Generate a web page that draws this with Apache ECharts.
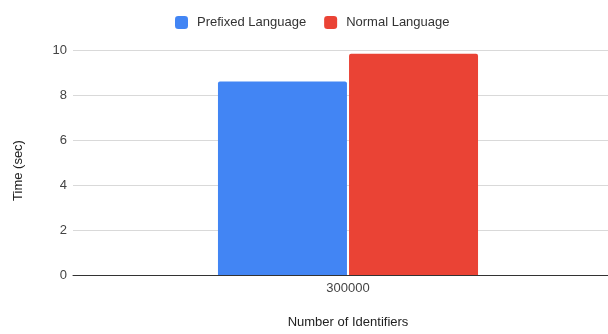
<!DOCTYPE html>
<html>
<head>
<meta charset="utf-8">
<script src="https://cdn.jsdelivr.net/npm/echarts@6/dist/echarts.min.js"></script>
<style>
  html, body { margin: 0; padding: 0; background: #fff; overflow: hidden; }
  /* plot area runs slightly past the right edge of the window */
  #chart { width: 623px; height: 334px; }
</style>
</head>
<body>
<div id="chart"></div>
<script>
// Timing results per identifier count
const categories = ['300000'];
const seriesNames = ['Prefixed Language', 'Normal Language'];
const prefixedTimes = [8.6];
const normalTimes = [9.83];
const yTicks = [0, 2, 4, 6, 8, 10];

const FONT = '"Liberation Sans", Arial, sans-serif';

const chart = echarts.init(document.getElementById('chart'), null, { renderer: 'canvas' });

chart.setOption({
  backgroundColor: '#ffffff',
  animation: false,
  textStyle: { fontFamily: FONT },
  legend: {
    top: 16,
    left: 175,
    padding: 0,
    itemWidth: 13,
    itemHeight: 13,
    itemGap: 18,
    icon: 'roundRect',
    textStyle: { fontFamily: FONT, fontSize: 13, color: '#333', padding: [0, 0, 0, 4] },
    data: seriesNames
  },
  grid: { left: 73, right: 0, top: 50, bottom: 54 },
  xAxis: {
    type: 'category',
    data: categories,
    name: 'Number of Identifiers',
    nameLocation: 'middle',
    nameGap: 41,
    nameTextStyle: { fontFamily: FONT, fontSize: 13, color: '#222' },
    axisLine: { lineStyle: { color: '#333', width: 1 } },
    axisTick: { show: false },
    axisLabel: { fontFamily: FONT, fontSize: 13, color: '#444', margin: 7 }
  },
  yAxis: {
    type: 'value',
    min: yTicks[0],
    max: yTicks[yTicks.length - 1],
    interval: yTicks[1] - yTicks[0],
    name: 'Time (sec)',
    nameLocation: 'middle',
    nameGap: 48,
    nameTextStyle: { fontFamily: FONT, fontSize: 13, color: '#222', padding: [0, 16, 0, 0] },
    axisLine: { show: false },
    axisTick: { show: false },
    axisLabel: { fontFamily: FONT, fontSize: 13, color: '#444', margin: 6 },
    splitLine: { lineStyle: { color: '#d9d9d9', width: 1 } }
  },
  series: [
    {
      name: seriesNames[0],
      type: 'bar',
      data: prefixedTimes,
      barWidth: 129,
      barGap: '1.6%',
      itemStyle: { color: '#4285F4', borderRadius: [2, 2, 0, 0] }
    },
    {
      name: seriesNames[1],
      type: 'bar',
      data: normalTimes,
      barWidth: 129,
      itemStyle: { color: '#EA4335', borderRadius: [2, 2, 0, 0] }
    }
  ]
});
</script>
</body>
</html>
